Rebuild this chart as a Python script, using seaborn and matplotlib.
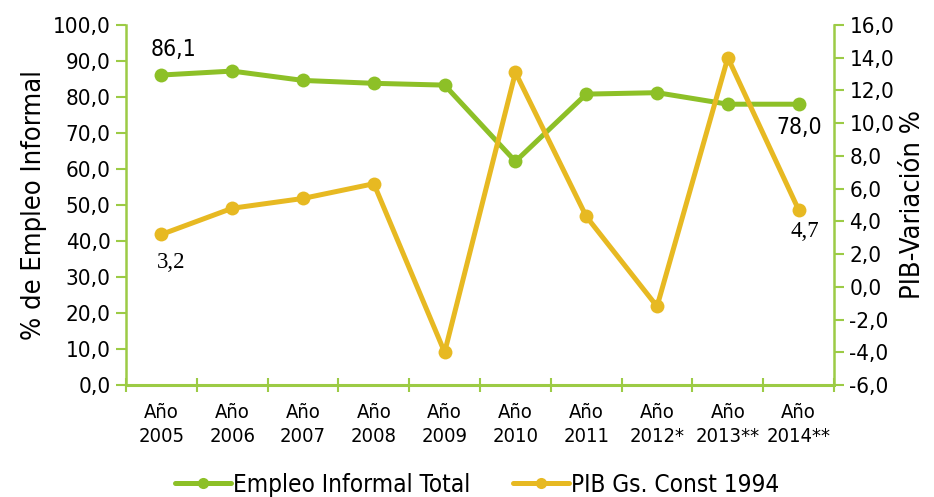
import matplotlib
matplotlib.use("Agg")
import matplotlib.pyplot as plt
from matplotlib.lines import Line2D
from matplotlib.ticker import FixedLocator, FuncFormatter
import seaborn as sns
import pandas as pd
import numpy as np

# Series data
anios = ["Año\n2005", "Año\n2006", "Año\n2007", "Año\n2008", "Año\n2009",
         "Año\n2010", "Año\n2011", "Año\n2012*", "Año\n2013**", "Año\n2014**"]
empleo_informal = [86.1, 87.2, 84.6, 83.8, 83.3, 62.1, 80.8, 81.2, 78.0, 78.0]
pib_variacion = [3.2, 4.8, 5.4, 6.3, -4.0, 13.1, 4.3, -1.2, 14.0, 4.7]

serie_empleo = "Empleo Informal Total"
serie_pib = "PIB Gs. Const 1994"

VERDE = "#8DC027"
AMARILLO = "#E7B922"
EJE = "#9CCB45"

sns.set_theme(style="white")
plt.rcParams["font.family"] = ["DejaVu Sans"]
plt.rcParams["font.stretch"] = "condensed"
plt.rcParams["text.color"] = "black"
plt.rcParams["axes.labelcolor"] = "black"
plt.rcParams["xtick.color"] = "black"
plt.rcParams["ytick.color"] = "black"

df = pd.DataFrame({"pos": np.arange(len(anios)),
                   "empleo": empleo_informal,
                   "pib": pib_variacion})

fig = plt.figure(figsize=(9.34, 4.97), dpi=100)
ax = fig.add_axes([0.1349, 0.2254, 0.893 - 0.1349, 0.9497 - 0.2254])
ax2 = ax.twinx()

sns.lineplot(data=df, x="pos", y="empleo", ax=ax, color=VERDE, linewidth=3.6,
             marker="o", markersize=10, markeredgewidth=0, zorder=3)
sns.lineplot(data=df, x="pos", y="pib", ax=ax2, color=AMARILLO, linewidth=3.6,
             marker="o", markersize=10, markeredgewidth=0, zorder=3)

fmt = FuncFormatter(lambda v, p: f"{v:.1f}".replace(".", ","))

ax.set_xlim(-0.5, len(anios) - 0.5)
ax.set_ylim(0, 100)
ax.set_yticks(np.arange(0, 101, 10))
ax.yaxis.set_major_formatter(fmt)
ax2.set_ylim(-6, 16)
ax2.set_yticks(np.arange(-6, 17, 2))
ax2.yaxis.set_major_formatter(fmt)

ax.set_xticks(np.arange(len(anios)))
ax.set_xticklabels(anios, linespacing=1.3)
ax.xaxis.set_minor_locator(FixedLocator(np.arange(-0.5, len(anios), 1.0)))
ax.tick_params(axis="x", which="major", length=0, pad=13, labelsize=14.5)
ax.tick_params(axis="x", which="minor", length=10, width=1.5, color=EJE,
               direction="inout", bottom=True)
ax.tick_params(axis="y", which="major", length=7, width=1.5, color=EJE,
               direction="out", left=True, labelsize=16, pad=4)
ax2.tick_params(axis="y", which="major", length=7, width=1.5, color=EJE,
                direction="out", right=True, labelsize=16, pad=4)

for a in (ax, ax2):
    for s in a.spines.values():
        s.set_visible(False)
ax.spines["left"].set_visible(True)
ax.spines["left"].set_color(EJE)
ax.spines["left"].set_linewidth(1.8)
ax.spines["bottom"].set_visible(True)
ax.spines["bottom"].set_color(EJE)
ax.spines["bottom"].set_linewidth(2.2)
ax2.spines["right"].set_visible(True)
ax2.spines["right"].set_color(EJE)
ax2.spines["right"].set_linewidth(1.8)

ax.set_xlabel("")
ax.set_ylabel("% de Empleo Informal", fontsize=19.5, labelpad=4)
ax2.set_ylabel("PIB-Variación %", fontsize=19.5, labelpad=4)

# Value labels at the first and last points
lbl = lambda v: f"{v:.1f}".replace(".", ",")
ax.annotate(lbl(empleo_informal[0]), (0, empleo_informal[0]), xytext=(12, 26),
            textcoords="offset pixels", ha="center", va="center", fontsize=16.5)
ax.annotate(lbl(empleo_informal[-1]), (9, empleo_informal[-1]), xytext=(1, -23),
            textcoords="offset pixels", ha="center", va="center", fontsize=16.5)
ax2.annotate(lbl(pib_variacion[0]), (0, pib_variacion[0]), xytext=(10, -28),
             textcoords="offset pixels", ha="center", va="center", fontsize=16.5,
             family="Liberation Serif")
ax2.annotate(lbl(pib_variacion[-1]), (9, pib_variacion[-1]), xytext=(6, -22),
             textcoords="offset pixels", ha="center", va="center", fontsize=16.5,
             family="Liberation Serif")

handles = [Line2D([], [], color=VERDE, lw=3.6, marker="o", markersize=8, markeredgewidth=0),
           Line2D([], [], color=AMARILLO, lw=3.6, marker="o", markersize=8, markeredgewidth=0)]
fig.legend(handles, [serie_empleo, serie_pib], loc="lower center", ncol=2,
           bbox_to_anchor=(0.511, -0.044), frameon=False, fontsize=17.5,
           handlelength=2.3, handletextpad=0.1, columnspacing=1.75)

fig.savefig("out.png", dpi=100)
